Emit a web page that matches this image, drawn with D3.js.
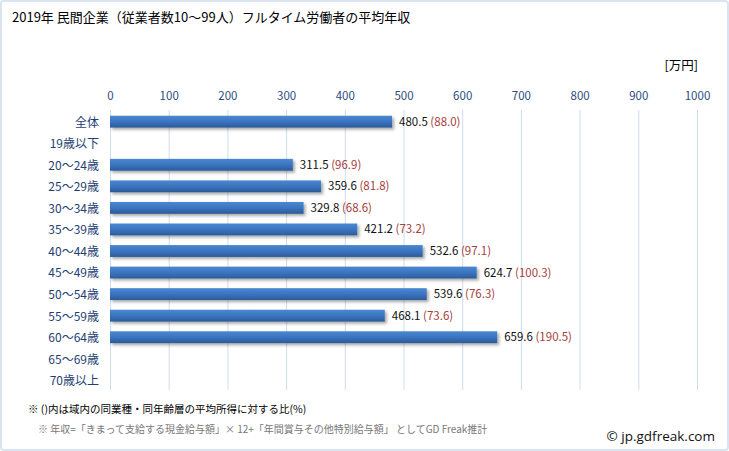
<!DOCTYPE html>
<html><head><meta charset="utf-8">
<script src="https://cdn.jsdelivr.net/npm/d3@7"></script>
<style>
body{margin:0;background:#fff;}
svg{display:block;font-family:"Noto Sans CJK JP","Noto Sans",sans-serif;}
</style></head>
<body>
<script>
const categories = ["全体","19歳以下","20〜24歳","25〜29歳","30〜34歳","35〜39歳","40〜44歳","45〜49歳","50〜54歳","55〜59歳","60〜64歳","65〜69歳","70歳以上"];
const values = [480.5, 0, 311.5, 359.6, 329.8, 421.2, 532.6, 624.7, 539.6, 468.1, 659.6, 0, 0];
const ratios = ["88.0", null, "96.9", "81.8", "68.6", "73.2", "97.1", "100.3", "76.3", "73.6", "190.5", null, null];
const xTicks = [0,100,200,300,400,500,600,700,800,900,1000];
const title = "2019年 民間企業（従業者数10〜99人）フルタイム労働者の平均年収";

const W = 729, H = 451;
const svg = d3.select("body").append("svg").attr("width", W).attr("height", H);

const defs = svg.append("defs");
const g = defs.append("linearGradient").attr("id","barGrad").attr("x1",0).attr("y1",0).attr("x2",0).attr("y2",1);
g.append("stop").attr("offset","0%").attr("stop-color","#4a88d2");
g.append("stop").attr("offset","55%").attr("stop-color","#3a72bd");
g.append("stop").attr("offset","100%").attr("stop-color","#2c5a98");
const f = defs.append("filter").attr("id","shadow").attr("x","-5%").attr("y","-30%").attr("width","115%").attr("height","190%");
f.append("feDropShadow").attr("dx",2).attr("dy",2).attr("stdDeviation",1.5).attr("flood-color","#000").attr("flood-opacity",0.35);

// border
svg.append("rect").attr("x",1).attr("y",1).attr("width",W-2).attr("height",H-2).attr("rx",3)
  .attr("fill","none").attr("stroke","#dae5f1").attr("stroke-width",2);

svg.append("text").attr("x",12).attr("y",22).attr("font-size",13).attr("fill","#000").text(title);
svg.append("text").attr("x",698).attr("y",70).attr("text-anchor","end").attr("font-size",12.5).attr("fill","#000").text("[万円]");

const x = d3.scaleLinear().domain([0,1000]).range([110,697]);
const y = d3.scaleBand().domain(categories).range([111,391]).paddingInner(0.45).paddingOuter(0.22);

// grid
svg.append("g").selectAll("line").data(xTicks).join("line")
  .attr("x1",d=>x(d)+0.5).attr("x2",d=>x(d)+0.5).attr("y1",110).attr("y2",390)
  .attr("stroke","#cfdcec").attr("stroke-width",1);

// x axis
const xa = svg.append("g").attr("transform","translate(0,100)")
  .call(d3.axisTop(x).tickValues(xTicks).tickFormat(d3.format("d")).tickSize(0).tickPadding(0));
xa.select(".domain").remove();
xa.selectAll("text").attr("font-size",11.5).attr("fill","#2e4b7c").attr("font-family","'Noto Sans CJK JP',sans-serif");

// y axis
const ya = svg.append("g").attr("transform","translate(99,1)")
  .call(d3.axisLeft(y).tickSize(0).tickPadding(0));
ya.select(".domain").remove();
ya.selectAll("text").attr("font-size",12).attr("fill","#1f3f73").attr("font-family","'Noto Sans CJK JP',sans-serif");

// bars
const data = categories.map((c,i)=>({c, v:values[i], r:ratios[i]}));
svg.append("g").selectAll("rect").data(data).join("rect")
  .attr("x",x(0)).attr("y",d=>y(d.c)).attr("width",d=>Math.max(0,x(d.v)-x(0)))
  .attr("height",y.bandwidth()).attr("fill","url(#barGrad)").attr("filter","url(#shadow)");

// labels
const lab = svg.append("g").selectAll("text").data(data.filter(d=>d.v>0)).join("text")
  .attr("x",d=>x(d.v)+7).attr("y",d=>y(d.c)+y.bandwidth()/2).attr("dy","0.35em")
  .attr("font-size",11.5).attr("font-family","'Noto Sans CJK JP',sans-serif");
lab.append("tspan").attr("fill","#111").text(d=>d3.format(".1f")(d.v));
lab.append("tspan").attr("fill","#a5403b").text(d=>" ("+d.r+")");

// footnotes
svg.append("text").attr("x",28).attr("y",413).attr("font-size",10.5).attr("fill","#000")
  .text("※ ()内は域内の同業種・同年齢層の平均所得に対する比(%)");
svg.append("text").attr("x",38).attr("y",433).attr("font-size",10).attr("fill","#777")
  .text("※ 年収=「きまって支給する現金給与額」× 12+「年間賞与その他特別給与額」 としてGD Freak推計");
svg.append("text").attr("x",715).attr("y",441).attr("text-anchor","end").attr("font-size",13.5).attr("fill","#111")
  .attr("font-family","'Open Sans','Noto Sans',sans-serif")
  .text("© jp.gdfreak.com");
</script>
</body></html>
